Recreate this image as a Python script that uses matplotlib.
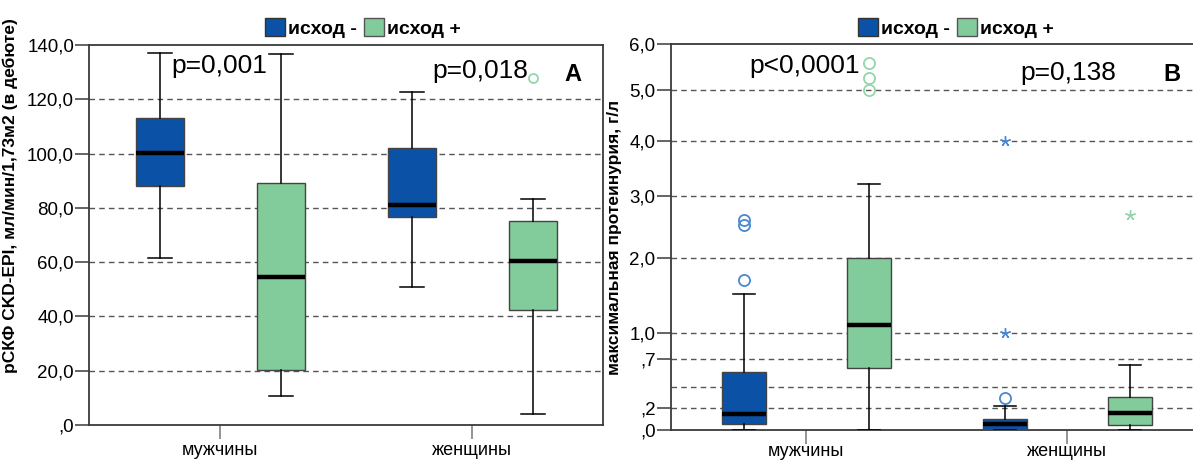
import numpy as np
import matplotlib
matplotlib.use('Agg')
import matplotlib.pyplot as plt
import matplotlib.patches as mpatches

plt.rcParams['font.family'] = ['Liberation Sans', 'DejaVu Sans']

# categories / groups
groups = ['мужчины', 'женщины']
series = ['исход -', 'исход +']

# panel A: рСКФ, box stats per series (whislo, q1, med, q3, whishi)
gfr_neg = [[61.4, 88.2, 100.1, 113.1, 137.0], [50.7, 76.8, 81.1, 102.2, 122.6]]
gfr_pos = [[10.8, 20.3, 54.5, 89.1, 136.6], [3.9, 42.3, 60.3, 75.3, 83.3]]
gfr_neg_out = [[], []]
gfr_pos_out = [[], [127.7]]
gfr_ticks = [0, 20, 40, 60, 80, 100, 120, 140]
gfr_labels = [',0', '20,0', '40,0', '60,0', '80,0', '100,0', '120,0', '140,0']

# panel B: протеинурия
prot_neg = [[0.0, 0.056, 0.14, 0.567, 1.52], [0.0, 0.0, 0.056, 0.098, 0.22]]
prot_pos = [[0.0, 0.61, 1.10, 2.0, 3.22], [0.0, 0.045, 0.149, 0.30, 0.64]]
prot_neg_out = [[1.71, 2.53, 2.62], [0.297]]
prot_pos_out = [[5.0, 5.26, 5.6], []]
prot_neg_ext = [[], [1.0, 4.0]]
prot_pos_ext = [[], [2.70]]
prot_ticks = [0, 0.2, 0.7, 1, 2, 3, 4, 5, 6]
prot_labels = [',0', ',2', ',7', '1,0', '2,0', '3,0', '4,0', '5,0', '6,0']
prot_ref = 0.4
# axis spacing of the SPSS scale (value -> fraction of axis height)
scale_vals = [0, 0.2, 0.4, 0.7, 1, 2, 3, 4, 5, 6]
scale_frac = [0, 0.058, 0.111, 0.183, 0.252, 0.445, 0.607, 0.750, 0.881, 1.0]

p_gfr = ['p=0,001', 'p=0,018']
p_prot = ['p<0,0001', 'p=0,138']

c_neg = '#0b51a5'
c_pos = '#82cb9b'
c_neg_out = '#4a88d0'
c_pos_out = '#93d6aa'
c_axis = '#3a3a3a'

W, H = 1193, 461
fig = plt.figure(figsize=(W / 100, H / 100), dpi=100)
axA = fig.add_axes([89.3 / W, 1 - 425 / H, 514 / W, 380 / H])
axB = fig.add_axes([670.7 / W, 1 - 430 / H, 532.4 / W, 385.7 / H])

def fwd(v):
  return np.interp(v, scale_vals, scale_frac)

def inv(v):
  return np.interp(v, scale_frac, scale_vals)

axB.set_yscale('function', functions=(fwd, inv))

def draw_boxes(ax, neg, pos, neg_out, pos_out, width, neg_ext=None, pos_ext=None, ms=8):
  for k, (data, outs, col, oc, sgn) in enumerate([(neg, neg_out, c_neg, c_neg_out, -1), (pos, pos_out, c_pos, c_pos_out, 1)]):
    stats = []
    for i in range(len(groups)):
      lo, q1, med, q3, hi = data[i]
      stats.append(dict(whislo=lo, q1=q1, med=med, q3=q3, whishi=hi, fliers=[]))
    pos_x = [i + sgn * 0.24 for i in range(len(groups))]
    ax.bxp(stats, positions=pos_x, widths=width, patch_artist=True, showfliers=False,
           boxprops=dict(facecolor=col, edgecolor='#444444', linewidth=1.0),
           medianprops=dict(color='black', linewidth=3.2),
           whiskerprops=dict(color='black', linewidth=1.1),
           capprops=dict(color='black', linewidth=1.1), capwidths=width / 2, zorder=3)
    for i in range(len(groups)):
      if outs[i]:
        ax.plot([pos_x[i]] * len(outs[i]), outs[i], 'o', mfc='none', mec=oc, ms=ms, mew=1.3, zorder=4)
    ext = neg_ext if k == 0 else pos_ext
    if ext:
      for i in range(len(groups)):
        if ext[i]:
          ax.plot([pos_x[i]] * len(ext[i]), ext[i], marker=(5, 2, 0), ls='none', color=oc, ms=7.5, mew=1.0, zorder=4)

def style_axes(ax, ticks, labels, xpad):
  ax.set_xlim(-0.52, 1.52)
  ax.set_xticks(range(len(groups)))
  ax.set_xticklabels(groups, fontsize=13)
  ax.set_yticks(ticks)
  ax.set_yticklabels(labels, fontsize=13.5)
  ax.tick_params(axis='y', length=10, width=1.1, color=c_axis, pad=1)
  ax.tick_params(axis='x', length=10, width=1.1, color='#777777', pad=xpad)
  ax.minorticks_off()
  for s in ax.spines.values():
    s.set_color(c_axis)
    s.set_linewidth(1.3)

# panel A
draw_boxes(axA, gfr_neg, gfr_pos, gfr_neg_out, gfr_pos_out, 0.19, ms=6.5)
axA.set_ylim(0, 140)
style_axes(axA, gfr_ticks, gfr_labels, 2.5)
for t in gfr_ticks[1:-1]:
  axA.axhline(t, color='#555555', lw=1.0, ls=(0, (4, 3)), zorder=1)
axA.set_ylabel('рСКФ CKD-EPI, мл/мин/1,73м2 (в дебюте)', fontsize=12.5, fontweight='bold')
axA.yaxis.set_label_coords(-0.139, 0.603)
axA.text(0.160, 0.926, p_gfr[0], transform=axA.transAxes, fontsize=19, va='baseline')
axA.text(0.667, 0.913, p_gfr[1], transform=axA.transAxes, fontsize=19, va='baseline')
axA.text(0.925, 0.906, 'A', transform=axA.transAxes, fontsize=17, fontweight='bold', va='baseline')

# panel B
draw_boxes(axB, prot_neg, prot_pos, prot_neg_out, prot_pos_out, 0.17, prot_neg_ext, prot_pos_ext)
axB.set_ylim(0, 6)
style_axes(axB, prot_ticks, prot_labels, -1)
for t in prot_ticks[1:-1] + [prot_ref]:
  axB.axhline(t, color='#555555', lw=1.0, ls=(0, (4, 3)), zorder=1)
axB.set_ylabel('максимальная протеинурия, г/л', fontsize=12.5, fontweight='bold')
axB.yaxis.set_label_coords(-0.092, 0.5)
axB.text(0.147, 0.926, p_prot[0], transform=axB.transAxes, fontsize=19, va='baseline')
axB.text(0.657, 0.907, p_prot[1], transform=axB.transAxes, fontsize=19, va='baseline')
axB.text(0.925, 0.905, 'B', transform=axB.transAxes, fontsize=17, fontweight='bold', va='baseline')

# legends above each panel
handles = [mpatches.Patch(facecolor=c_neg, edgecolor='#333333', label=series[0]),
           mpatches.Patch(facecolor=c_pos, edgecolor='#555555', label=series[1])]
for cx in (363, 956):
  fig.legend(handles=handles, loc='center', bbox_to_anchor=(cx / W, 1 - 28 / H), ncol=2, frameon=False,
             prop=dict(weight='bold', size=14), handlelength=1.0, handleheight=1.0,
             handletextpad=0.15, columnspacing=0.4, borderpad=0)

fig.savefig('out.png', dpi=100)
